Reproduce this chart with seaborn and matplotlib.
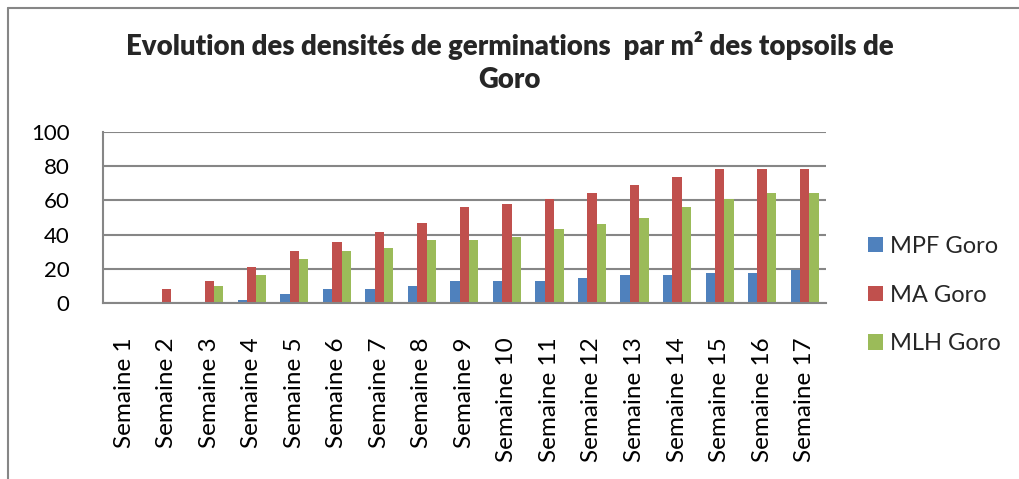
import matplotlib
matplotlib.use("Agg")
import matplotlib.pyplot as plt
from matplotlib.lines import Line2D
import seaborn as sns
import pandas as pd

weeks = [f"Semaine {i}" for i in range(1, 18)]
mpf_goro = [0, 0, 0, 1.8, 4.9, 8.0, 8.0, 9.6, 12.9, 12.9, 12.9, 14.5, 16.0, 16.0, 17.6, 17.6, 19.4]
ma_goro = [0, 8.0, 12.9, 20.9, 30.5, 35.4, 41.7, 46.6, 56.2, 57.7, 60.9, 64.2, 69.1, 73.8, 78.7, 78.7, 78.7]
mlh_goro = [0, 0, 9.6, 16.2, 25.6, 30.5, 32.1, 36.8, 36.8, 38.4, 43.2, 46.4, 49.7, 56.2, 60.9, 64.2, 64.2]
series_names = ["MPF Goro", "MA Goro", "MLH Goro"]
y_ticks = [0, 20, 40, 60, 80, 100]
title = "Evolution des densités de germinations  par m² des topsoils de\nGoro"

palette = ["#4F81BD", "#C0504D", "#9BBB59"]

df = pd.DataFrame({
    "Semaine": weeks * 3,
    "Série": sum([[n] * len(weeks) for n in series_names], []),
    "Densité": mpf_goro + ma_goro + mlh_goro,
})

sns.set_theme(style="white")
plt.rcParams["font.family"] = ["Lato", "DejaVu Sans"]

fig = plt.figure(figsize=(10.19, 4.79), dpi=100)
ax = fig.add_axes([0.101, 0.368, 0.7095, 0.356])

sns.barplot(data=df, x="Semaine", y="Densité", hue="Série", palette=palette,
            width=0.66, gap=0, saturation=1, errorbar=None, ax=ax,
            edgecolor="none", linewidth=0)

ax.set_ylim(0, 100)
ax.set_xlim(-0.5, len(weeks) - 0.5)
ax.set_yticks(y_ticks)
ax.set_yticklabels([str(v) for v in y_ticks], fontsize=16, color="black")
ax.set_xticks(range(len(weeks)))
ax.set_xticklabels(weeks, rotation=90, fontsize=17.5, color="black")
ax.set_xlabel("")
ax.set_ylabel("")
ax.tick_params(axis="x", length=0, pad=25)
ax.tick_params(axis="y", length=0, pad=24)

ax.yaxis.grid(True, color="#868686", linewidth=1.5)
ax.set_axisbelow(True)
for side in ["top", "right"]:
    ax.spines[side].set_visible(False)
for side in ["left", "bottom"]:
    ax.spines[side].set_color("#868686")
    ax.spines[side].set_linewidth(1.5)

handles, labels = ax.get_legend_handles_labels()
ax.legend(handles, labels, loc="center left", bbox_to_anchor=(1.042, 0.045),
          frameon=False, fontsize=17, handlelength=0.62, handleheight=0.62,
          handletextpad=0.3, labelspacing=1.17, borderpad=0)

fig.text(0.5, 0.935, title, ha="center", va="top", fontsize=19.8,
         fontweight="heavy", linespacing=1.35)

# outer chart frame
fig.add_artist(Line2D([8 / 1019, 1], [1 - 8 / 479, 1 - 8 / 479], color="#868686", lw=1.5,
                      transform=fig.transFigure))
fig.add_artist(Line2D([8 / 1019, 8 / 1019], [0, 1 - 8 / 479], color="#868686", lw=1.5,
                      transform=fig.transFigure))

fig.savefig("out.png", dpi=100)
